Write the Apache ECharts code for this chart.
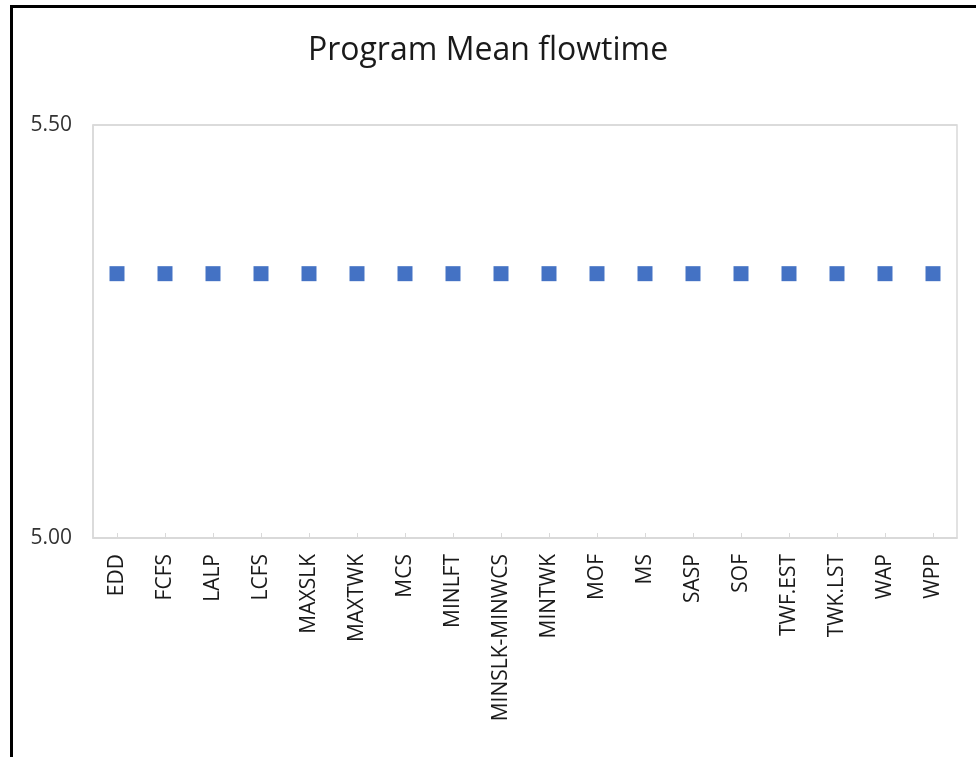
<!DOCTYPE html>
<html>
<head>
<meta charset="utf-8">
<script src="https://cdn.jsdelivr.net/npm/echarts@6/dist/echarts.min.js"></script>
<style>html,body{margin:0;padding:0;background:#fff;}#c{width:976px;height:757px;}</style>
</head>
<body>
<div id="c"></div>
<script>
const categories = ["EDD","FCFS","LALP","LCFS","MAXSLK","MAXTWK","MCS","MINLFT","MINSLK-MINWCS","MINTWK","MOF","MS","SASP","SOF","TWF.EST","TWK.LST","WAP","WPP"];
const values = [5.32,5.32,5.32,5.32,5.32,5.32,5.32,5.32,5.32,5.32,5.32,5.32,5.32,5.32,5.32,5.32,5.32,5.32];
const yTicks = [5.00, 5.50];
const titleText = "Program Mean flowtime";

const font = "Open Sans";
const chart = echarts.init(document.getElementById('c'));
chart.setOption({
  animation: false,
  backgroundColor: '#fff',
  title: {
    text: titleText, left: 'center', top: 30,
    textStyle: {fontFamily: font, fontSize: 32, fontWeight: 'normal', color: '#1a1a1a'}
  },
  graphic: [{
    type: 'rect', shape: {x: 11.5, y: 6.5, width: 1100, height: 900},
    style: {fill: 'none', stroke: '#000', lineWidth: 3}, silent: true
  }],
  grid: {left: 93, right: 19, top: 125, bottom: 219, show: true, borderColor: '#d9d9d9', borderWidth: 1.5},
  xAxis: {
    type: 'category', data: categories, boundaryGap: true,
    axisLine: {show: true, lineStyle: {color: '#d9d9d9', width: 1.5}},
    axisTick: {show: true, alignWithLabel: true, inside: true, length: 5, lineStyle: {color: '#d9d9d9'}},
    axisLabel: {rotate: 90, margin: 16, fontFamily: font, fontSize: 21, color: '#1a1a1a', interval: 0}
  },
  yAxis: {
    type: 'value', min: yTicks[0], max: yTicks[1], interval: 0.5,
    axisLine: {show: true, lineStyle: {color: '#d9d9d9', width: 1.5}},
    axisTick: {show: false},
    splitLine: {show: true, lineStyle: {color: '#d9d9d9', width: 1.5}},
    axisLabel: {margin: 21, fontFamily: font, fontSize: 21, color: '#333', formatter: v => v.toFixed(2)}
  },
  series: [{
    type: 'scatter', data: values, symbol: 'rect', symbolSize: 15,
    itemStyle: {color: '#4472c4', opacity: 1}
  }]
});
</script>
</body>
</html>
